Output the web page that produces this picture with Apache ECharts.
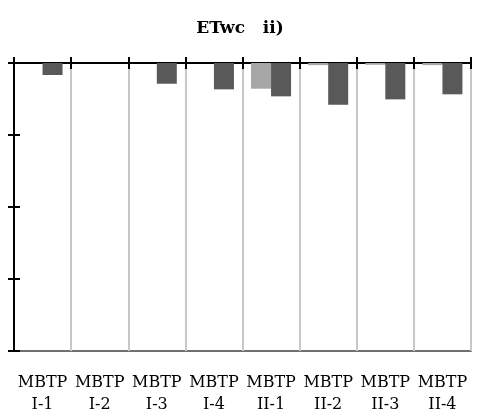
<!DOCTYPE html>
<html>
<head>
<meta charset="utf-8">
<script src="https://cdn.jsdelivr.net/npm/echarts@6/dist/echarts.min.js"></script>
<style>
html,body{margin:0;padding:0;background:#fff;}
#chart{width:480px;height:419px;}
</style>
</head>
<body>
<div id="chart"></div>
<script>
const titleText = 'ETwc   ii)';
const categories = ['MBTP\nI-1','MBTP\nI-2','MBTP\nI-3','MBTP\nI-4','MBTP\nII-1','MBTP\nII-2','MBTP\nII-3','MBTP\nII-4'];
const seriesLight = [0, 0, 0, 0, -0.357, -0.03, -0.025, -0.03];
const seriesDark = [-0.167, 0, -0.288, -0.366, -0.463, -0.58, -0.505, -0.435];
const yMin = -4, yMax = 0, yInterval = 1;

const chart = echarts.init(document.getElementById('chart'), null, {renderer:'canvas'});
const serif = "'DejaVu Serif', 'Liberation Serif', serif";
chart.setOption({
  animation: false,
  backgroundColor: '#ffffff',
  title: {
    text: titleText, left: 'center', top: 15,
    textStyle: {fontFamily: serif, fontWeight: 'bold', fontSize: 17, color: '#000'}
  },
  grid: {left: 14, right: 9, top: 63, bottom: 68, show: true, borderColor: '#404040', borderWidth: 1.5, backgroundColor: 'transparent'},
  xAxis: [
    {type: 'category', data: categories, position: 'bottom',
     axisLine: {show: false, onZero: false}, axisTick: {show: false},
     axisLabel: {interval: 0, margin: 21, fontFamily: serif, fontSize: 16, lineHeight: 22, color: '#000'},
     splitLine: {show: true, interval: 0, lineStyle: {color: '#c8c8c8', width: 2}}},
    {type: 'category', data: categories, position: 'top',
     axisLine: {show: true, onZero: false, lineStyle: {color: '#000', width: 2}},
     axisTick: {show: false},
     axisLabel: {show: false}, splitLine: {show: false}},
    {type: 'category', data: categories, position: 'top', offset: -6,
     axisLine: {show: false, onZero: false},
     axisTick: {show: true, interval: 0, length: 12, inside: false, lineStyle: {color: '#000', width: 2}},
     axisLabel: {show: false}, splitLine: {show: false}}
  ],
  yAxis: [
    {type: 'value', min: yMin, max: yMax, interval: yInterval, position: 'left',
     axisLine: {show: true, onZero: false, lineStyle: {color: '#000', width: 2}},
     axisTick: {show: false},
     axisLabel: {show: false}, splitLine: {show: false}},
    {type: 'value', min: yMin, max: yMax, interval: yInterval, position: 'left', offset: -6,
     axisLine: {show: false, onZero: false},
     axisTick: {show: true, length: 12, inside: false, lineStyle: {color: '#000', width: 2}},
     axisLabel: {show: false}, splitLine: {show: false}}
  ],
  series: [
    {type: 'bar', data: seriesLight, barWidth: 20, barGap: '0%', itemStyle: {color: '#a6a6a6'}},
    {type: 'bar', data: seriesDark, barWidth: 20, barGap: '0%', itemStyle: {color: '#595959'}}
  ]
});
</script>
</body>
</html>
